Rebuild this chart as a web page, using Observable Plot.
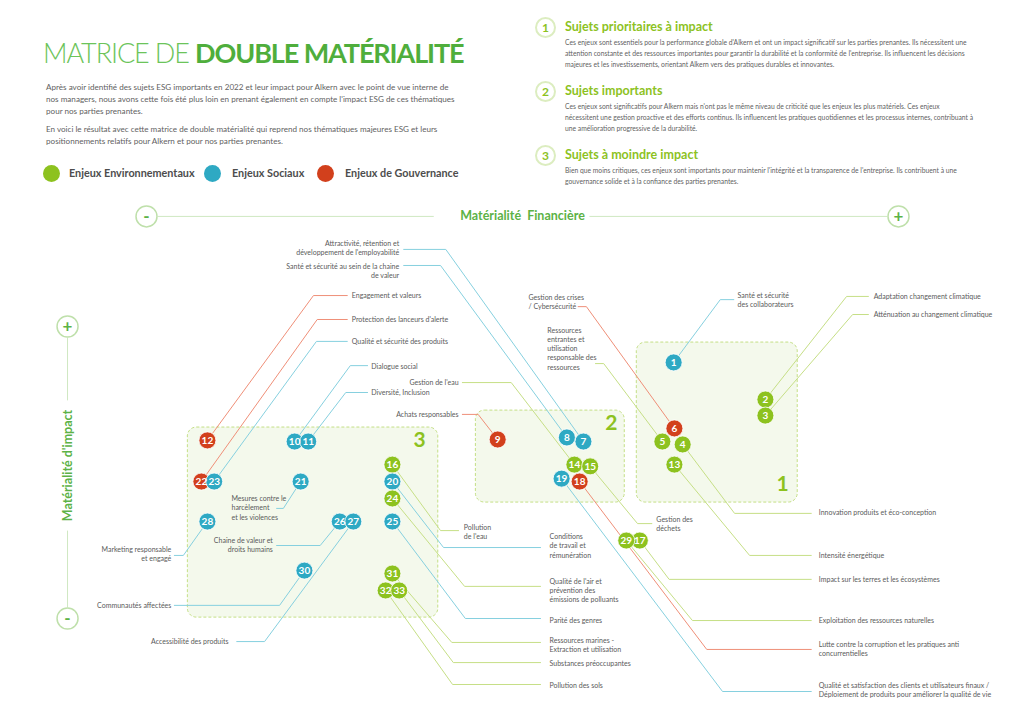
<!DOCTYPE html>
<html lang="fr">
<head>
<meta charset="utf-8">
<script src="https://cdn.jsdelivr.net/npm/d3@7"></script>
<script src="https://cdn.jsdelivr.net/npm/@observablehq/plot@0.6"></script>
<style>
  html, body { margin: 0; padding: 0; background: #fff; }
  body { width: 1024px; height: 724px; position: relative; overflow: hidden; font-family: Lato, "Open Sans", sans-serif; }
  .abs { position: absolute; white-space: nowrap; }
  #title { left: 43px; top: 35px; font-size: 27px; line-height: 36px; letter-spacing: -1.1px; }
  #title .light { font-weight: 300; color: #6cc45a; }
  #title .bold { font-weight: 700; color: #4fae3c; }
  .intro { left: 46px; font-size: 8.1px; line-height: 12px; color: #5f5f5f; }
  .leg-dot { width: 17px; height: 17px; border-radius: 50%; }
  .leg-txt { font-size: 10.8px; font-weight: 700; color: #4d4d4d; }
  .num { width: 17px; height: 17px; border-radius: 50%; border: 2px solid #dcedc0; color: #8dc21f; font-weight: 700; font-size: 12px; line-height: 17px; text-align: center; }
  .head { left: 565px; font-size: 12.5px; font-weight: 700; color: #8dc21f; }
  .body { left: 565px; font-size: 6.75px; line-height: 11px; color: #5f5f5f; }
  #chart { position: absolute; left: 0; top: 190px; }
</style>
</head>
<body>
<div id="title" class="abs"><span class="light">MATRICE DE </span><span class="bold">DOUBLE MATÉRIALITÉ</span></div>
<div class="abs intro" style="top:81px">Après avoir identifié des sujets ESG importants en 2022 et leur impact pour Alkern avec le point de vue interne de<br>nos managers, nous avons cette fois été plus loin en prenant également en compte l'impact ESG de ces thématiques<br>pour nos parties prenantes.</div>
<div class="abs intro" style="top:123px">En voici le résultat avec cette matrice de double matérialité qui reprend nos thématiques majeures ESG et leurs<br>positionnements relatifs pour Alkern et pour nos parties prenantes.</div>
<div id="legend"></div>
<div id="blocks"></div>
<div id="chart"></div>
<script>
// ---------- DATA ----------
const legendLabels = ["Enjeux Environnementaux", "Enjeux Sociaux", "Enjeux de Gouvernance"];
const categoryKeys = ["E", "S", "G"];

const blockNumbers = ["1", "2", "3"];
const blockTitles = ["Sujets prioritaires à impact", "Sujets importants", "Sujets à moindre impact"];
const blockTexts = [
  "Ces enjeux sont essentiels pour la performance globale d'Alkern et ont un impact significatif sur les parties prenantes. Ils nécessitent une\nattention constante et des ressources importantes pour garantir la durabilité et la conformité de l'entreprise. Ils influencent les décisions\nmajeures et les investissements, orientant Alkern vers des pratiques durables et innovantes.",
  "Ces enjeux sont significatifs pour Alkern mais n'ont pas le même niveau de criticité que les enjeux les plus matériels. Ces enjeux\nnécessitent une gestion proactive et des efforts continus. Ils influencent les pratiques quotidiennes et les processus internes, contribuant à\nune amélioration progressive de la durabilité.",
  "Bien que moins critiques, ces enjeux sont importants pour maintenir l'intégrité et la transparence de l'entreprise. Ils contribuent à une\ngouvernance solide et à la confiance des parties prenantes."
];

const axisXTitle = "Matérialité  Financière";
const axisYTitle = "Matérialité d'impact";

// topics 1..33
const topicIds = [1,2,3,4,5,6,7,8,9,10,11,12,13,14,15,16,17,18,19,20,21,22,23,24,25,26,27,28,29,30,31,32,33];
const topicCategory = ["S","E","E","E","E","G","S","S","G","S","S","G","E","E","E","E","E","G","S","S","S","G","S","E","S","S","S","S","E","S","E","E","E"];
// financial materiality (x) and impact materiality (y), 0-100
const financialScore = [70.1,82.3,82.3,71.3,68.6,70.2,58.1,55.9,46.7,19.7,21.5,8.1,70.2,56.9,59.0,32.7,65.6,57.6,55.2,32.7,20.5,7.3,9.0,32.7,32.7,25.7,27.5,8.1,63.8,21.0,32.7,31.8,33.6];
const impactScore    = [87.7,75.0,69.5,59.6,60.6,65.1,60.6,62.0,61.3,60.6,60.6,61.0,52.7,52.7,52.1,52.7,26.7,46.9,47.9,46.9,46.9,46.9,46.9,41.1,33.2,33.2,33.2,33.2,26.7,16.4,15.4,9.6,9.6];

const topicLabels = [
  "Santé et sécurité\ndes collaborateurs",
  "Adaptation changement climatique",
  "Atténuation au changement climatique",
  "Innovation produits et éco-conception",
  "Ressources\nentrantes et\nutilisation\nresponsable des\nressources",
  "Gestion des crises\n/ Cybersécurité",
  "Attractivité, rétention et\ndéveloppement de l'employabilité",
  "Santé et sécurité au sein de la chaine\nde valeur",
  "Achats responsables",
  "Dialogue social",
  "Diversité, Inclusion",
  "Engagement et valeurs",
  "Intensité énergétique",
  "Gestion de l'eau",
  "Gestion des\ndéchets",
  "Pollution\nde l'eau",
  "Impact sur les terres et les écosystèmes",
  "Lutte contre la corruption et les pratiques anti\nconcurrentielles",
  "Qualité et satisfaction des clients et utilisateurs finaux /\nDéploiement de produits pour améliorer la qualité de vie",
  "Conditions\nde travail et\nrémunération",
  "Mesures contre le\nharcèlement\net les violences",
  "Protection des lanceurs d'alerte",
  "Qualité et sécurité des produits",
  "Qualité de l'air et\nprévention des\némissions de polluants",
  "Parité des genres",
  "Chaine de valeur et\ndroits humains",
  "Accessibilité des produits",
  "Marketing responsable\net engagé",
  "Exploitation des ressources naturelles",
  "Communautés affectées",
  "Ressources marines -\nExtraction et utilisation",
  "Pollution des sols",
  "Substances préoccupantes"
];
// annotation layout (same units as the scores)
const labelAnchor = ["start","start","start","start","start","start","end","end","end","start","start","start","start","end","start","start","start","start","start","start","start","start","start","start","start","end","end","end","start","end","start","start","start"];
const labelX = [78.6,96.7,96.7,89.4,53.3,50.8,33.6,33.6,41.5,29.9,29.9,27.3,89.4,41.5,67.8,42.2,89.4,89.4,89.4,53.6,11.3,27.3,27.3,53.6,53.6,16.8,10.9,3.3,89.4,3.3,53.6,53.6,53.6];
const labelY = [109.2,110.3,104.1,36.3,92.5,108.6,126.9,119.3,69.9,86.6,77.4,110.6,21.6,80.8,32.4,29.8,13.4,-10.4,-24.3,25.0,38.0,102.4,94.9,9.6,-0.7,25.3,-7.9,22.1,-0.7,4.5,-8.9,-22.9,-15.4];
const elbowX = [76.3,93.1,93.9,78.2,60.8,58.5,39.8,39.1,44.1,27.1,26.5,22.2,80.2,48.5,65.3,39.1,69.5,74.5,76.6,39.5,18.2,22.7,22.6,42.3,42.4,23.1,15.7,4.9,72.6,17.7,40.6,40.7,40.8];
const elbowY = [109.2,110.3,104.1,36.0,87.3,106.8,126.4,120.9,69.9,86.6,77.4,110.6,21.6,80.8,32.5,30.1,13.4,-10.6,-25.0,24.3,37.7,102.4,94.9,11.0,0.0,25.0,-7.9,21.6,-0.7,4.5,-8.2,-22.6,-15.1];
const leaderEndX = [78.1,96.0,96.0,88.4,59.7,57.4,34.2,34.2,42.0,29.4,29.4,26.7,88.4,42.0,67.2,41.5,88.4,88.4,88.4,52.4,17.3,26.7,26.7,52.4,52.4,17.3,12.0,3.7,88.4,3.7,52.4,52.4,52.4];

// zones
const zoneNames = ["1", "2", "3"];
const zoneX1 = [65.2, 43.8, 5.5];
const zoneX2 = [86.6, 63.6, 38.8];
const zoneY1 = [39.7, 39.7, 0.3];
const zoneY2 = [94.5, 71.2, 65.4];
const zoneLabelX = [84.6, 61.8, 36.3];
const zoneLabelY = [45.9, 66.8, 61.0];

// axis decoration (min / max of each axis, position of the other axis)
const axisXAt = 137.7;   // impact level where the financial axis is drawn
const axisYAt = -10.5;   // financial level where the impact axis is drawn
const axisMin = 0, axisMax = 100;

// ---------- STYLE ----------
const dotColor = {E: "#8dc21f", S: "#2ea9c3", G: "#d2401c"};
const lineColor = {E: "#c6df86", S: "#86d0df", G: "#ef8f78"};
const axisGreen = "#5cb246";
const axisLine = "#cfe8c2";

// ---------- HEADER (legend + blocks) ----------
const legendX = [[43, 69], [204, 232], [317, 345]];
const legend = document.getElementById("legend");
categoryKeys.forEach((k, i) => {
  const d = document.createElement("div");
  d.className = "abs leg-dot";
  d.style.cssText = `left:${legendX[i][0]}px;top:165px;background:${dotColor[k]}`;
  legend.appendChild(d);
  const t = document.createElement("div");
  t.className = "abs leg-txt";
  t.style.cssText = `left:${legendX[i][1]}px;top:166px`;
  t.textContent = legendLabels[i];
  legend.appendChild(t);
});
const blocks = document.getElementById("blocks");
const blockTop = [18, 82, 146];
blockNumbers.forEach((n, i) => {
  const c = document.createElement("div");
  c.className = "abs num";
  c.style.cssText = `left:535px;top:${blockTop[i] - 1}px`;
  c.textContent = n;
  blocks.appendChild(c);
  const h = document.createElement("div");
  h.className = "abs head";
  h.style.cssText = `top:${blockTop[i] + 1}px`;
  h.textContent = blockTitles[i];
  blocks.appendChild(h);
  const b = document.createElement("div");
  b.className = "abs body";
  b.style.cssText = `top:${blockTop[i] + 19}px`;
  b.innerHTML = blockTexts[i].split("\n").join("<br>");
  blocks.appendChild(b);
});

// ---------- CHART ----------
const topics = topicIds.map((id, i) => ({
  id, cat: topicCategory[i], x: financialScore[i], y: impactScore[i],
  label: topicLabels[i], anchor: labelAnchor[i], lx: labelX[i], ly: labelY[i],
  ex: elbowX[i], ey: elbowY[i], fx: leaderEndX[i]
}));
const leaders = topics.flatMap(t => [
  {id: t.id, cat: t.cat, x: t.x, y: t.y},
  {id: t.id, cat: t.cat, x: t.ex, y: t.ey},
  {id: t.id, cat: t.cat, x: t.fx, y: t.ey}
]);
const zones = zoneNames.map((n, i) => ({n, x1: zoneX1[i], x2: zoneX2[i], y1: zoneY1[i], y2: zoneY2[i], lx: zoneLabelX[i], ly: zoneLabelY[i]}));

const axisEnds = [
  {x: axisMin, y: axisXAt, s: "-"}, {x: axisMax, y: axisXAt, s: "+"},
  {x: axisYAt, y: axisMax, s: "+"}, {x: axisYAt, y: axisMin, s: "-"}
];
const axisSegments = [
  {x1: 1.5, x2: 38.2, y1: axisXAt, y2: axisXAt},
  {x1: 58.9, x2: 98.5, y1: axisXAt, y2: axisXAt},
  {x1: axisYAt, x2: axisYAt, y1: 96.2, y2: 74.7},
  {x1: axisYAt, x2: axisYAt, y1: 30.1, y2: 3.8}
];

const chart = Plot.plot({
  width: 1024,
  height: 534,
  margin: 0,
  x: {domain: [0, 100], range: [146, 898], axis: null},
  y: {domain: [0, 100], range: [428, 136], axis: null},
  color: {type: "identity"},
  style: {fontFamily: "Lato, 'Open Sans', sans-serif", background: "transparent", overflow: "visible"},
  marks: [
    Plot.rect(zones, {x1: "x1", x2: "x2", y1: "y1", y2: "y2", fill: "#f4f9ec", stroke: "#c4df86", strokeWidth: 1, strokeDasharray: "3,2", rx: 9}),
    Plot.text(zones, {x: "lx", y: "ly", text: "n", fill: "#8dc21f", fontSize: 21, fontWeight: 700}),
    Plot.link(axisSegments, {x1: "x1", y1: "y1", x2: "x2", y2: "y2", stroke: axisLine, strokeWidth: 1}),
    Plot.dot(axisEnds, {x: "x", y: "y", r: 10.5, fill: "white", stroke: "#bfe0ab", strokeWidth: 1.5}),
    Plot.text(axisEnds, {x: "x", y: "y", text: "s", fill: axisGreen, fontSize: 17, fontWeight: 700, dy: 0}),
    Plot.text([axisXTitle], {x: 50, y: axisXAt, text: d => d, fill: axisGreen, fontSize: 12.5, fontWeight: 700}),
    Plot.text([axisYTitle], {x: axisYAt, y: 52.4, text: d => d, fill: axisGreen, fontSize: 12.5, fontWeight: 700, rotate: -90}),
    Plot.line(leaders, {x: "x", y: "y", z: "id", stroke: d => lineColor[d.cat], strokeWidth: 1, curve: "linear"}),
    Plot.text(topics.filter(t => t.anchor === "start"), {x: "lx", y: "ly", text: "label", textAnchor: "start", lineAnchor: "middle", lineHeight: 1.3, fontSize: 7, fill: "#5a5a5a"}),
    Plot.text(topics.filter(t => t.anchor === "end"), {x: "lx", y: "ly", text: "label", textAnchor: "end", lineAnchor: "middle", lineHeight: 1.3, fontSize: 7, fill: "#5a5a5a"}),
    Plot.dot(topics, {x: "x", y: "y", r: 8.5, fill: d => dotColor[d.cat], stroke: "white", strokeWidth: 0.8}),
    Plot.text(topics, {x: "x", y: "y", text: d => String(d.id), fill: "white", fontSize: 10, fontWeight: 700, letterSpacing: -0.6, dy: 0.5})
  ]
});
document.getElementById("chart").appendChild(chart);
</script>
</body>
</html>
